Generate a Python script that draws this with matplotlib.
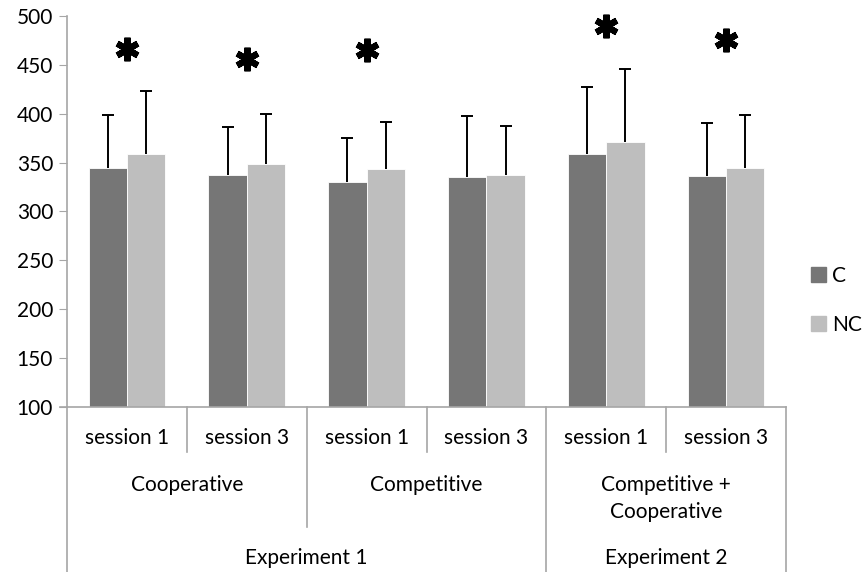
import numpy as np
import matplotlib
matplotlib.use("Agg")
import matplotlib.pyplot as plt
from matplotlib.patches import Patch

plt.rcParams['font.family'] = ['Lato', 'DejaVu Sans']

# data
sessions = ["session 1", "session 3", "session 1", "session 3", "session 1", "session 3"]
conditions = ["Cooperative", "Competitive", "Competitive +\nCooperative"]
experiments = ["Experiment 1", "Experiment 2"]
c_vals = [345, 337, 330, 335, 359, 336]
nc_vals = [359, 349, 343, 337, 371, 345]
c_err = [54, 49, 45, 63, 68, 55]
nc_err = [64, 51, 49, 50, 75, 54]
star_y = [466, 456, 465, None, 490, 475]

dark = "#767676"
light = "#bebebe"
grid_gray = "#a6a6a6"

fig = plt.figure(figsize=(8.66, 5.72), dpi=100)
ax = fig.add_axes([0.0774, 0.2885, 0.8302, 0.6835])

x = np.arange(len(sessions)) + 0.5
w = 0.32
ax.bar(x - w / 2, c_vals, w, bottom=0, color=dark, edgecolor="white", linewidth=0.6, label="C")
ax.bar(x + w / 2, nc_vals, w, bottom=0, color=light, edgecolor="white", linewidth=0.6, label="NC")
for xs, vals, err in [(x - w / 2, c_vals, c_err), (x + w / 2, nc_vals, nc_err)]:
    eb = ax.errorbar(xs, vals, yerr=[np.zeros(6), err], fmt="none",
                     ecolor="black", elinewidth=1.4, capsize=4.5, capthick=1.4)
    eb[1][0].set_visible(False)  # no cap at the bar top

# significance stars
for xi, sy in zip(x, star_y):
    if sy is not None:
        ax.plot(xi, sy, marker=(6, 2, 0), markersize=17, markeredgewidth=4.5,
                color="black", clip_on=False)

ax.set_xlim(0, 6)
ax.set_ylim(100, 500)
ax.set_yticks(np.arange(100, 501, 50))
ax.set_xticks([])
ax.tick_params(axis="y", direction="out", length=6, color=grid_gray, labelsize=15, pad=4)
for s in ["top", "right"]:
    ax.spines[s].set_visible(False)
for s in ["left", "bottom"]:
    ax.spines[s].set_color(grid_gray)
    ax.spines[s].set_linewidth(1.2)

# multi level category axis
tr = ax.get_xaxis_transform()
def vline(xp, y0):
    ax.plot([xp, xp], [0, y0], color=grid_gray, lw=1.2, transform=tr, clip_on=False)

for xp in [1, 3, 5]:
    vline(xp, -0.115)
for xp in [2]:
    vline(xp, -0.307)
for xp in [0, 4, 6]:
    vline(xp, -0.43)
ax.plot([-0.06, 0], [0, 0], color=grid_gray, lw=1.2, transform=tr, clip_on=False)

for xi, s in zip(x, sessions):
    ax.text(xi, -0.079, s, ha="center", va="center", fontsize=15, transform=tr)
for i, c in enumerate(conditions):
    yy = -0.235 if "\n" in c else -0.2
    ax.text(2 * i + 1, yy, c, ha="center", va="center", fontsize=15,
            transform=tr, linespacing=1.45)
ax.text(2, -0.386, experiments[0], ha="center", va="center", fontsize=15, transform=tr)
ax.text(5, -0.386, experiments[1], ha="center", va="center", fontsize=15, transform=tr)

handles = [Patch(color=dark), Patch(color=light)]
fig.legend(handles, ["C", "NC"], loc="center left", bbox_to_anchor=(0.937, 0.475),
           frameon=False, fontsize=15, handlelength=0.7, handleheight=0.7,
           handletextpad=0.3, labelspacing=1.4, borderpad=0, borderaxespad=0)

fig.savefig("out.png", dpi=100)
